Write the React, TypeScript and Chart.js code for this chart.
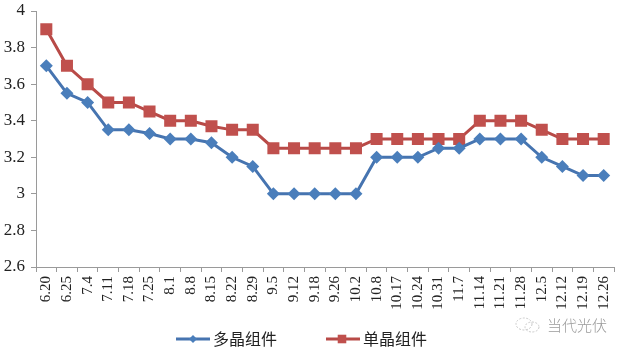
import React, { useEffect, useRef } from "react";
import { Chart, registerables } from "chart.js";

Chart.register(...registerables);

const categories = [
  "6.20", "6.25", "7.4", "7.11", "7.18", "7.25", "8.1", "8.8", "8.15", "8.22",
  "8.29", "9.5", "9.12", "9.18", "9.26", "10.2", "10.8", "10.17", "10.24", "10.31",
  "11.7", "11.14", "11.21", "11.28", "12.5", "12.12", "12.19", "12.26",
];

const polySeries = [
  3.7, 3.55, 3.5, 3.35, 3.35, 3.33, 3.3, 3.3, 3.28, 3.2,
  3.15, 3.0, 3.0, 3.0, 3.0, 3.0, 3.2, 3.2, 3.2, 3.25,
  3.25, 3.3, 3.3, 3.3, 3.2, 3.15, 3.1, 3.1,
];

const monoSeries = [
  3.9, 3.7, 3.6, 3.5, 3.5, 3.45, 3.4, 3.4, 3.37, 3.35,
  3.35, 3.25, 3.25, 3.25, 3.25, 3.25, 3.3, 3.3, 3.3, 3.3,
  3.3, 3.4, 3.4, 3.4, 3.35, 3.3, 3.3, 3.3,
];

const seriesNames = ["多晶组件", "单晶组件"];
const yMin = 2.6;
const yMax = 4;
const yStep = 0.2;

const BLUE_LINE = "#4674b0";
const BLUE_MARK = "#4a7ebb";
const RED_LINE = "#b84a47";
const RED_MARK = "#c0504d";
const SERIF = "'Liberation Serif', 'Times New Roman', 'DejaVu Serif', serif";

const legendPlugin = {
  id: "bottomLegend",
  afterDraw(chart: any) {
    const ctx = chart.ctx as CanvasRenderingContext2D;
    const y = 339;
    const items = [
      { x: 176, text: seriesNames[0], line: BLUE_LINE, mark: BLUE_MARK, style: "rectRot", r: 4 },
      { x: 326, text: seriesNames[1], line: RED_LINE, mark: RED_MARK, style: "rect", r: 6 },
    ];
    ctx.save();
    for (const it of items) {
      ctx.strokeStyle = it.line;
      ctx.lineWidth = 3;
      ctx.beginPath();
      ctx.moveTo(it.x, y);
      ctx.lineTo(it.x + 34, y);
      ctx.stroke();
      ctx.fillStyle = it.mark;
      ctx.beginPath();
      if (it.style === "rectRot") {
        const cx = it.x + 17;
        ctx.moveTo(cx, y - it.r);
        ctx.lineTo(cx + it.r, y);
        ctx.lineTo(cx, y + it.r);
        ctx.lineTo(cx - it.r, y);
        ctx.closePath();
      } else {
        const cx = it.x + 16;
        const h = it.r / 1.4;
        ctx.rect(cx - h, y - h, h * 2, h * 2);
      }
      ctx.fill();
      ctx.fillStyle = "#222";
      ctx.font = "16px 'Noto Sans CJK SC', sans-serif";
      ctx.textBaseline = "middle";
      ctx.textAlign = "left";
      ctx.fillText(it.text, it.x + 37, y);
    }
    ctx.restore();
  },
};

export default function App() {
  const ref = useRef<HTMLCanvasElement | null>(null);

  useEffect(() => {
    document.body.style.margin = "0";
    if (!ref.current) return;
    const chart = new Chart(ref.current, {
      type: "line",
      data: {
        labels: categories,
        datasets: [
          {
            label: seriesNames[0],
            data: polySeries,
            borderColor: BLUE_LINE,
            backgroundColor: BLUE_MARK,
            borderWidth: 3,
            pointStyle: "rectRot",
            pointRadius: 6.5,
            pointBorderWidth: 0,
            pointBackgroundColor: BLUE_MARK,
            tension: 0,
          },
          {
            label: seriesNames[1],
            data: monoSeries,
            borderColor: RED_LINE,
            backgroundColor: RED_MARK,
            borderWidth: 3,
            pointStyle: "rect",
            pointRadius: 8.5,
            pointBorderWidth: 0,
            pointBackgroundColor: RED_MARK,
            tension: 0,
          },
        ],
      },
      options: {
        animation: false,
        responsive: false,
        maintainAspectRatio: false,
        layout: { padding: { top: 11, right: 10, bottom: 39, left: 0 } },
        plugins: {
          legend: { display: false },
          tooltip: { enabled: false },
        },
        scales: {
          x: {
            type: "category",
            offset: true,
            afterFit(scale: any) {
              scale.height = 45;
              scale.paddingLeft = 0;
              scale.paddingRight = 0;
            },
            grid: {
              offset: true,
              drawOnChartArea: false,
              drawTicks: true,
              tickLength: 5,
              color: "#9a9a9a",
            },
            border: { color: "#9a9a9a", width: 1 },
            ticks: {
              autoSkip: false,
              maxRotation: 90,
              minRotation: 90,
              padding: 4,
              color: "#222",
              font: { family: SERIF, size: 15 },
            },
          },
          y: {
            min: yMin,
            max: yMax,
            afterFit(scale: any) {
              scale.width = 36;
              scale.paddingTop = 0;
              scale.paddingBottom = 0;
            },
            grid: {
              drawOnChartArea: false,
              drawTicks: true,
              tickLength: 5,
              color: "#9a9a9a",
            },
            border: { color: "#9a9a9a", width: 1 },
            ticks: {
              stepSize: yStep,
              padding: 6,
              color: "#222",
              font: { family: SERIF, size: 17 },
              callback: (v: any) => String(Number(Number(v).toFixed(1))),
            },
          },
        },
      },
      plugins: [legendPlugin],
    });
    const fonts: any = (document as any).fonts;
    if (fonts && fonts.load) {
      Promise.all([
        fonts.load("15px 'Liberation Serif'"),
        fonts.load("16px 'Noto Sans CJK SC'"),
      ]).then(() => chart.update()).catch(() => {});
    }
    return () => chart.destroy();
  }, []);

  return (
    <div style={{ position: "relative", width: 624, height: 351, background: "#fff" }}>
      <span style={{ fontFamily: SERIF, position: "absolute", left: -9999, top: 0 }}>0.</span>
      <canvas ref={ref} width={624} height={351} style={{ display: "block" }} />
      <div
        style={{
          position: "absolute",
          left: 514,
          top: 314,
          display: "flex",
          alignItems: "center",
          color: "#9a9a9a",
          fontFamily: "'Noto Sans CJK SC', sans-serif",
          fontSize: 15,
          fontWeight: 300,
        }}
      >
        <svg width="28" height="20" viewBox="0 0 28 20" style={{ marginRight: 5 }}>
          <ellipse cx="10" cy="9" rx="8" ry="6" fill="none" stroke="#c8c8c8" strokeWidth="1" strokeDasharray="2 1.5" />
          <ellipse cx="18" cy="12" rx="7" ry="5" fill="none" stroke="#c8c8c8" strokeWidth="1" strokeDasharray="2 1.5" />
        </svg>
        <span>当代光伏</span>
      </div>
    </div>
  );
}
